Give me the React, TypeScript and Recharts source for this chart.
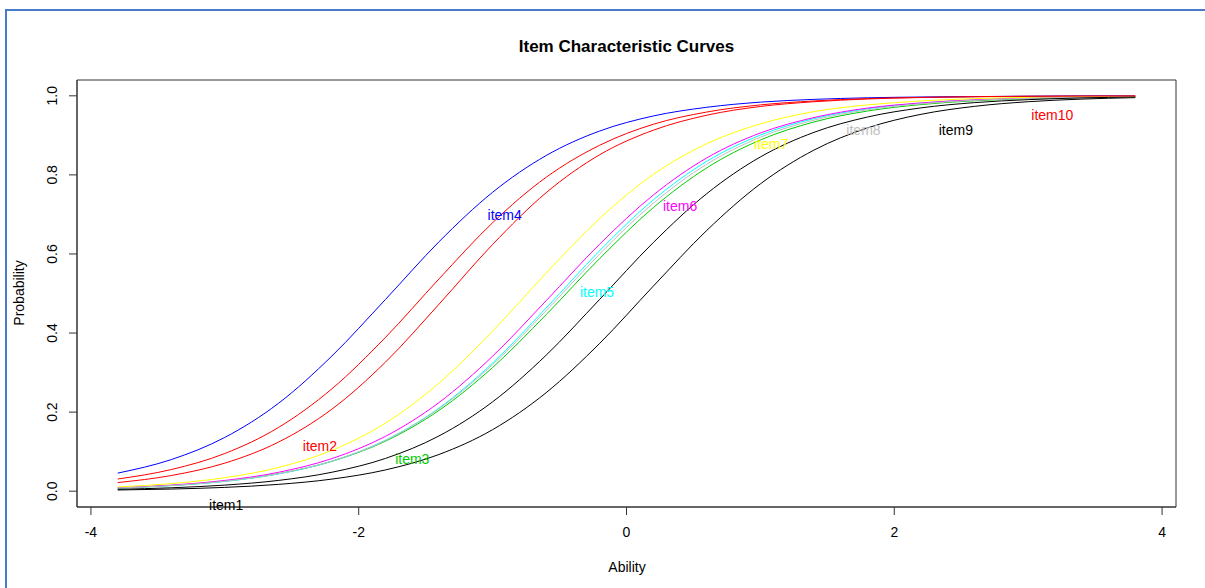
import React from 'react';
import { LineChart, Line, XAxis, YAxis, ReferenceDot, ReferenceArea } from 'recharts';

// ability grid and probabilities
const theta = [-3.8, -3.4, -3.0, -2.6, -2.2, -1.8, -1.4, -1.0, -0.6, -0.2, 0.2, 0.6, 1.0, 1.4, 1.8, 2.2, 2.6, 3.0, 3.4, 3.8];

const item1 = [0.003, 0.0054, 0.0096, 0.0172, 0.0306, 0.0538, 0.0929, 0.1556, 0.2492, 0.374, 0.5185, 0.6597, 0.7773, 0.8627, 0.9188, 0.9532, 0.9734, 0.9851, 0.9917, 0.9954];
const item2 = [0.0218, 0.0396, 0.071, 0.124, 0.2075, 0.3265, 0.473, 0.624, 0.755, 0.851, 0.913, 0.951, 0.973, 0.985, 0.992, 0.9957, 0.9977, 0.9987, 0.9993, 0.9996];
const item3 = [0.0082, 0.0145, 0.0254, 0.0442, 0.0756, 0.1266, 0.2044, 0.3128, 0.4465, 0.5886, 0.7171, 0.8179, 0.8883, 0.9338, 0.9615, 0.9779, 0.9874, 0.9929, 0.996, 0.9977];
const item4 = [0.0457, 0.0799, 0.136, 0.222, 0.342, 0.485, 0.631, 0.756, 0.849, 0.911, 0.949, 0.971, 0.984, 0.991, 0.995, 0.997, 0.998, 0.999, 0.9995, 0.9997];
const item5 = [0.0078, 0.0139, 0.0247, 0.0436, 0.0759, 0.1289, 0.2103, 0.3241, 0.4633, 0.6085, 0.7367, 0.8344, 0.9007, 0.9423, 0.9671, 0.9815, 0.9896, 0.9942, 0.9968, 0.9982];
const item6 = [0.0086, 0.0154, 0.0272, 0.0477, 0.0825, 0.1388, 0.2243, 0.3414, 0.4818, 0.625, 0.749, 0.843, 0.906, 0.945, 0.969, 0.982, 0.99, 0.9944, 0.9969, 0.9983];
const item7 = [0.0107, 0.0191, 0.0341, 0.0599, 0.1033, 0.1723, 0.2735, 0.405, 0.5516, 0.69, 0.801, 0.879, 0.929, 0.96, 0.977, 0.987, 0.993, 0.996, 0.9978, 0.9988];
const item8 = [0.0081, 0.0143, 0.0252, 0.0442, 0.0763, 0.1285, 0.2085, 0.32, 0.4566, 0.6001, 0.7283, 0.8272, 0.8953, 0.9385, 0.9646, 0.9799, 0.9886, 0.9936, 0.9964, 0.998];
const item9 = [0.0048, 0.0086, 0.0154, 0.0272, 0.0479, 0.0829, 0.1398, 0.226, 0.344, 0.4853, 0.6288, 0.7527, 0.8454, 0.9076, 0.9464, 0.9695, 0.9828, 0.9903, 0.9946, 0.997];
const item10 = [0.0308, 0.0547, 0.0953, 0.161, 0.259, 0.389, 0.537, 0.679, 0.794, 0.875, 0.928, 0.959, 0.977, 0.987, 0.993, 0.996, 0.998, 0.9988, 0.9994, 0.9996];

const itemNames = ['item1', 'item2', 'item3', 'item4', 'item5', 'item6', 'item7', 'item8', 'item9', 'item10'];
const itemColors = ['#000000', '#FF0000', '#00CD00', '#0000FF', '#00FFFF', '#FF00FF', '#FFFF00', '#BEBEBE', '#000000', '#FF0000'];

// where the item names sit (ability, probability)
const labelTheta = [-2.99, -2.29, -1.6, -0.91, -0.22, 0.4, 1.08, 1.77, 2.46, 3.18];
const labelProb = [-0.035, 0.114, 0.081, 0.699, 0.504, 0.721, 0.877, 0.913, 0.914, 0.952];

const xTicks = [-4, -2, 0, 2, 4];
const yTicks = [0, 0.2, 0.4, 0.6, 0.8, 1.0];
const xDomain = [-4.104, 4.104];
const yDomain = [-0.04, 1.04];

const series = [item1, item2, item3, item4, item5, item6, item7, item8, item9, item10];
const data = theta.map((t, i) => {
  const row: Record<string, number> = { theta: t };
  itemNames.forEach((n, k) => { row[n] = series[k][i]; });
  return row;
});

const XTick = (props: any) => {
  const { x, y, payload } = props;
  return (
    <text x={x} y={y + 15} textAnchor="middle" dominantBaseline="central" fontSize={14} fill="#000">
      {payload.value}
    </text>
  );
};

const YTick = (props: any) => {
  const { x, y, payload } = props;
  const cx = x - 15;
  return (
    <text x={cx} y={y} transform={`rotate(-90, ${cx}, ${y})`} textAnchor="middle" dominantBaseline="central" fontSize={14} fill="#000">
      {Number(payload.value).toFixed(1)}
    </text>
  );
};

const font = '"Liberation Sans", Arial, sans-serif';

export default function App() {
  return (
    <div style={{ position: 'absolute', left: 0, top: 0, width: 1205, height: 588, background: '#fff', fontFamily: font, overflow: 'hidden' }}>
      <div style={{ position: 'absolute', left: 5, top: 9, width: 1210, height: 590, borderTop: '2px solid #4A7BCB', borderLeft: '2px solid #4A7BCB' }} />
      <LineChart width={1205} height={588} data={data} margin={{ top: 80, right: 29, left: 0, bottom: 0 }} style={{ fontFamily: font }}>
        <XAxis dataKey="theta" type="number" domain={xDomain} allowDataOverflow ticks={xTicks} height={81}
          tick={<XTick />} tickSize={8} tickLine={{ stroke: '#333' }} axisLine={{ stroke: '#333' }} />
        <YAxis type="number" domain={yDomain} allowDataOverflow ticks={yTicks} width={77}
          tick={<YTick />} tickSize={8} tickLine={{ stroke: '#333' }} axisLine={{ stroke: '#333' }} />
        <ReferenceArea x1={xDomain[0]} x2={xDomain[1]} y1={yDomain[0]} y2={yDomain[1]} fill="none" stroke="#333" strokeWidth={1} ifOverflow="visible" />
        {itemNames.map((n, k) => (
          <Line key={n} dataKey={n} type="monotone" stroke={itemColors[k]} strokeWidth={1} dot={false} isAnimationActive={false} />
        ))}
        {itemNames.map((n, k) => (
          <ReferenceDot key={'lab' + n} x={labelTheta[k]} y={labelProb[k]} r={1} fill="none" stroke="none" ifOverflow="visible"
            label={{ value: n, position: 'center', fill: itemColors[k], fontSize: 14 }} />
        ))}
      </LineChart>
      <div style={{ position: 'absolute', left: 0, width: 1205, top: 37, textAlign: 'center', paddingLeft: 48, boxSizing: 'border-box', fontWeight: 'bold', fontSize: 17, lineHeight: '20px' }}>
        Item Characteristic Curves
      </div>
      <div style={{ position: 'absolute', left: 527, width: 200, top: 558, textAlign: 'center', fontSize: 14, lineHeight: '18px' }}>
        Ability
      </div>
      <div style={{ position: 'absolute', left: 19 - 50, width: 100, top: 293 - 9, textAlign: 'center', fontSize: 14, lineHeight: '18px', transform: 'rotate(-90deg)' }}>
        Probability
      </div>
    </div>
  );
}
